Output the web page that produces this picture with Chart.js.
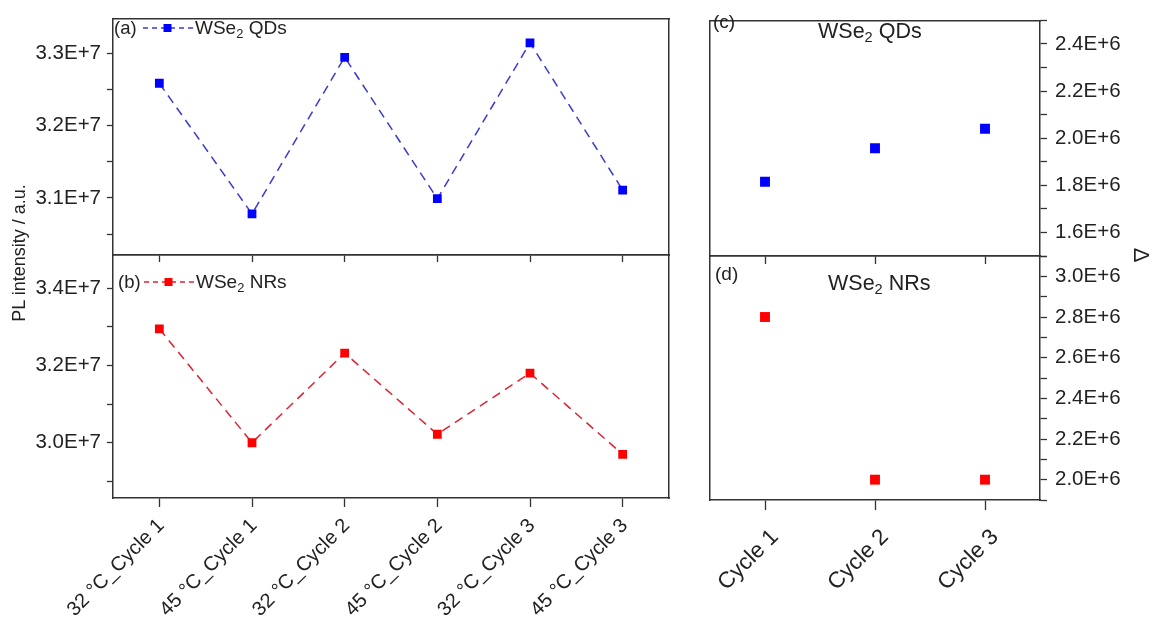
<!DOCTYPE html>
<html><head><meta charset="utf-8">
<script src="https://cdn.jsdelivr.net/npm/chart.js@4/dist/chart.umd.min.js"></script>
<style>
html,body{margin:0;padding:0;background:#fff;}
#wrap{position:relative;width:1154px;height:619px;overflow:hidden;font-family:"Liberation Sans",Arial,sans-serif;color:#222;}
canvas{position:absolute;left:0;top:0;}
.t{position:absolute;white-space:nowrap;line-height:1;}
.sub{font-size:0.68em;position:relative;top:0.28em;}
svg{position:absolute;overflow:visible;}
</style></head><body>
<div id="wrap">
<canvas id="cA" width="1154" height="619"></canvas>
<canvas id="cB" width="1154" height="619"></canvas>
<canvas id="cC" width="1154" height="619"></canvas>
<canvas id="cD" width="1154" height="619"></canvas>

<svg style="left:0;top:0;" width="1154" height="619">
  <line x1="143" y1="28" x2="193" y2="28" stroke="#3a3acc" stroke-width="1.5" stroke-dasharray="5,4"/>
  <rect x="163.5" y="24" width="8" height="8" fill="#0000ff"/>
  <line x1="144" y1="282" x2="194" y2="282" stroke="#dd2233" stroke-width="1.5" stroke-dasharray="5,4"/>
  <rect x="164.5" y="278" width="8" height="8" fill="#ff0000"/>
</svg>
<div class="t" style="left:114px;top:18.5px;font-size:18.5px;">(a)</div>
<div class="t" style="left:195px;top:18.2px;font-size:19px;">WSe<span class="sub">2</span> QDs</div>
<div class="t" style="left:118px;top:272.5px;font-size:18.5px;">(b)</div>
<div class="t" style="left:196px;top:272px;font-size:19px;">WSe<span class="sub">2</span> NRs</div>

<div class="t" style="left:713px;top:12px;font-size:19px;">(c)</div>
<div class="t" style="left:818px;top:20.8px;font-size:21.5px;">WSe<span class="sub">2</span> QDs</div>
<div class="t" style="left:715px;top:264px;font-size:19px;">(d)</div>
<div class="t" style="left:828px;top:272.8px;font-size:21.5px;">WSe<span class="sub">2</span> NRs</div>

<div class="t" style="left:19px;top:253px;font-size:18px;transform:translate(-50%,-50%) rotate(-90deg);">PL intensity / a.u.</div>
<div class="t" style="left:1141px;top:255px;font-size:22px;transform:translate(-50%,-50%) rotate(90deg);">Δ</div>
</div>
<script>
// ---- data ----
const tempCategories = ['32 °C_Cycle 1','45 °C_Cycle 1','32 °C_Cycle 2','45 °C_Cycle 2','32 °C_Cycle 3','45 °C_Cycle 3'];
const qdsPL = [3.259e7, 3.078e7, 3.295e7, 3.099e7, 3.315e7, 3.111e7];
const nrsPL = [3.295e7, 3.000e7, 3.232e7, 3.022e7, 3.180e7, 2.970e7];
const cycleCategories = ['Cycle 1','Cycle 2','Cycle 3'];
const qdsDelta = [1.815e6, 1.957e6, 2.040e6];
const nrsDelta = [2.80e6, 2.00e6, 2.00e6];
const majorTicksA = [3.1e7, 3.2e7, 3.3e7];
const minorTicksA = [3.05e7, 3.15e7, 3.25e7];
const majorTicksB = [3.0e7, 3.2e7, 3.4e7];
const minorTicksB = [2.9e7, 3.1e7, 3.3e7];
const majorTicksC = [1.6e6, 1.8e6, 2.0e6, 2.2e6, 2.4e6];
const minorTicksC = [1.5e6, 1.7e6, 1.9e6, 2.1e6, 2.3e6, 2.5e6];
const majorTicksD = [2.0e6, 2.2e6, 2.4e6, 2.6e6, 2.8e6, 3.0e6];
const minorTicksD = [1.9e6, 2.1e6, 2.3e6, 2.5e6, 2.7e6, 2.9e6, 3.1e6];

Chart.defaults.font.family = '"Liberation Sans", Arial, sans-serif';
Chart.defaults.color = '#222';

const W = 1154, H = 619;
const AX = '#333';
const fmt7 = v => (v / 1e7).toFixed(1) + 'E+7';
const fmt6 = v => (v / 1e6).toFixed(1) + 'E+6';

function makePanel(id, c) {
  const s = {left: c.area.left, right: W - c.area.right, top: c.area.top, bottom: H - c.area.bottom};
  const allTicks = c.majors.concat(c.minors).sort((a, b) => a - b);
  const yMain = {
    type: 'linear', position: c.yPos, min: c.yMin, max: c.yMax,
    afterBuildTicks: sc => { sc.ticks = allTicks.map(v => ({value: v})); },
    afterFit: sc => { sc.width = c.yPos === 'left' ? s.left : s.right; },
    ticks: {autoSkip: false, padding: c.yPad, font: {size: 20.5}, color: '#222',
      callback: v => c.majors.includes(v) ? c.fmt(v) : ''},
    grid: {drawOnChartArea: false, tickLength: c.yTickLen, tickColor: AX, tickWidth: 1.3},
    border: {color: AX, width: 1.5}
  };
  const yOther = {
    type: 'linear', position: c.yPos === 'left' ? 'right' : 'left',
    afterFit: sc => { sc.width = c.yPos === 'left' ? s.right : s.left; },
    ticks: {display: false}, grid: {drawOnChartArea: false, drawTicks: false},
    border: {color: AX, width: 1.5}
  };
  const xMain = {
    type: 'category', position: 'bottom', offset: true,
    afterFit: sc => { sc.height = s.bottom; },
    ticks: {display: c.showX, autoSkip: false, minRotation: 45, maxRotation: 45,
      font: {size: c.xFont}, color: '#222', padding: c.xPad, labelOffset: c.xOff},
    grid: {drawOnChartArea: false, offset: false, tickLength: c.xTickLen, tickColor: AX, tickWidth: 1.3},
    border: {color: AX, width: 1.5}
  };
  const xTop = {
    type: 'category', position: 'top', offset: true,
    afterFit: sc => { sc.height = s.top; },
    ticks: {display: false}, grid: {drawOnChartArea: false, drawTicks: false},
    border: {color: AX, width: 1.5}
  };
  return new Chart(document.getElementById(id), {
    type: 'line',
    data: {
      labels: c.categories,
      datasets: [{
        data: c.values, xAxisID: 'x', yAxisID: 'y',
        showLine: c.showLine, borderColor: c.lineColor, borderWidth: 1.5, borderDash: [9, 6],
        pointStyle: 'rect', pointRadius: c.radius, pointBorderWidth: 0,
        pointBackgroundColor: c.color, pointBorderColor: c.color, fill: false, tension: 0
      }]
    },
    options: {
      responsive: false, animation: false, devicePixelRatio: 1,
      layout: {padding: 0},
      plugins: {legend: {display: false}, tooltip: {enabled: false}},
      scales: {x: xMain, x2: xTop, y: yMain, y2: yOther}
    }
  });
}

makePanel('cA', {area: {left: 113, right: 669, top: 13, bottom: 255}, categories: tempCategories, values: qdsPL,
  color: '#0000ff', lineColor: '#3a3acc', showLine: true, radius: 6.2, yPos: 'left', yMin: 3.021e7, yMax: 3.349e7,
  majors: majorTicksA, minors: minorTicksA, fmt: fmt7, yPad: 6, yTickLen: 6, showX: false, xFont: 20, xPad: 4, xOff: 0, xTickLen: 7});
makePanel('cB', {area: {left: 113, right: 669, top: 255, bottom: 498}, categories: tempCategories, values: nrsPL,
  color: '#ff0000', lineColor: '#dd2233', showLine: true, radius: 6.2, yPos: 'left', yMin: 2.857e7, yMax: 3.486e7,
  majors: majorTicksB, minors: minorTicksB, fmt: fmt7, yPad: 6, yTickLen: 6, showX: true, xFont: 20, xPad: 7, xOff: 2, xTickLen: 9});
makePanel('cC', {area: {left: 710, right: 1040, top: 13, bottom: 256}, categories: cycleCategories, values: qdsDelta,
  color: '#0000ff', lineColor: '#0000ff', showLine: false, radius: 7, yPos: 'right', yMin: 1.5e6, yMax: 2.5e6,
  majors: majorTicksC, minors: minorTicksC, fmt: fmt6, yPad: 8, yTickLen: 7, showX: false, xFont: 22.5, xPad: 4, xOff: 0, xTickLen: 8});
makePanel('cD', {area: {left: 710, right: 1040, top: 256, bottom: 500}, categories: cycleCategories, values: nrsDelta,
  color: '#ff0000', lineColor: '#ff0000', showLine: false, radius: 7, yPos: 'right', yMin: 1.9e6, yMax: 3.1e6,
  majors: majorTicksD, minors: minorTicksD, fmt: fmt6, yPad: 8, yTickLen: 7, showX: true, xFont: 22.5, xPad: 14, xOff: 10, xTickLen: 10});
</script>
</body></html>
